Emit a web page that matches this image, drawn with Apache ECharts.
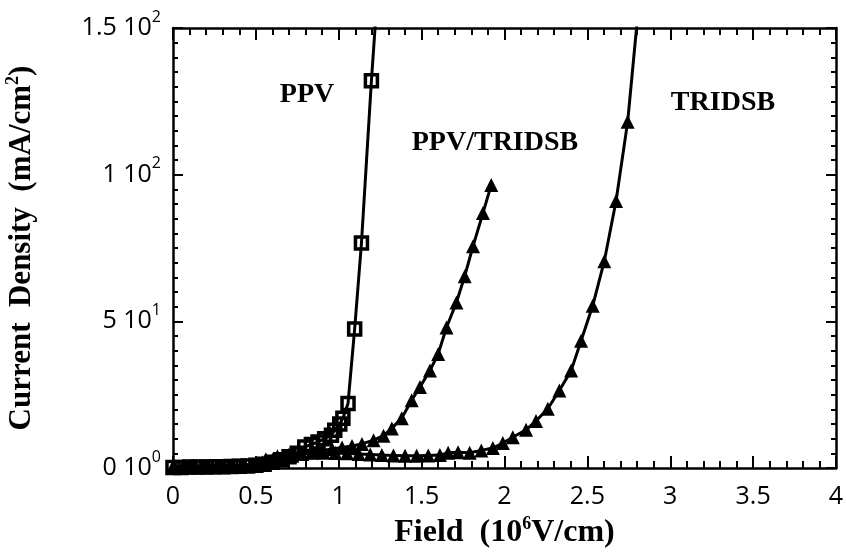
<!DOCTYPE html>
<html>
<head>
<meta charset="utf-8">
<script src="https://cdn.jsdelivr.net/npm/echarts@6/dist/echarts.min.js"></script>
<style>
html,body{margin:0;padding:0;background:#fff;}
#chart{width:846px;height:552px;}
</style>
</head>
<body>
<div id="chart"></div>
<script>
// ---- data ----
const xTickLabels = ['0', '0.5', '1', '1.5', '2', '2.5', '3', '3.5', '4'];
const yTickLabels = ['0 10{sup|0}', '5 10{sup|1}', '1 10{sup|2}', '1.5 10{sup|2}'];

const ppvX = [0, 0.05, 0.1, 0.15, 0.2, 0.25, 0.3, 0.35, 0.4, 0.45, 0.5, 0.55, 0.6, 0.65, 0.7, 0.75, 0.795, 0.835, 0.875, 0.915, 0.956, 0.976, 1.006, 1.025, 1.056, 1.096, 1.137, 1.197, 1.225];
const ppvY = [0.2, 0.2, 0.3, 0.3, 0.3, 0.4, 0.4, 0.5, 0.6, 0.7, 0.9, 1.3, 2.0, 2.8, 3.8, 5.0, 7.2, 8.0, 8.9, 10.0, 11.2, 12.9, 15.0, 17.0, 22.0, 47.4, 76.7, 132.0, 155.0];

const blendX = [0, 0.06, 0.12, 0.18, 0.24, 0.3, 0.36, 0.42, 0.48, 0.54, 0.6, 0.66, 0.72, 0.78, 0.84, 0.9, 0.96, 1.02, 1.08, 1.14, 1.21, 1.27, 1.32, 1.38, 1.44, 1.49, 1.55, 1.6, 1.65, 1.71, 1.76, 1.81, 1.87, 1.92];
const blendY = [0.4, 0.4, 0.5, 0.5, 0.6, 0.7, 0.8, 1.0, 1.3, 2.0, 2.8, 3.5, 4.2, 4.8, 5.4, 6.0, 6.5, 7.0, 7.5, 8.2, 9.5, 11.0, 13.5, 17.0, 23.1, 27.6, 33.2, 38.9, 47.9, 56.4, 65.4, 75.6, 86.9, 96.5];

const tridX = [0, 0.07, 0.14, 0.21, 0.28, 0.35, 0.42, 0.49, 0.56, 0.63, 0.7, 0.77, 0.84, 0.91, 0.98, 1.05, 1.12, 1.19, 1.26, 1.33, 1.4, 1.47, 1.54, 1.61, 1.66, 1.72, 1.79, 1.86, 1.93, 1.99, 2.05, 2.13, 2.19, 2.261, 2.331, 2.402, 2.462, 2.532, 2.602, 2.673, 2.743, 2.81];
const tridY = [0.3, 0.3, 0.4, 0.4, 0.5, 0.5, 0.7, 1.2, 3.0, 4.0, 4.6, 5.0, 5.2, 5.2, 5.1, 5.0, 4.8, 4.6, 4.4, 4.3, 4.2, 4.2, 4.3, 4.4, 5.2, 5.4, 5.2, 6.0, 6.8, 8.5, 10.5, 13.0, 16.0, 20.2, 26.4, 33.2, 43.4, 55.3, 70.5, 91.0, 118.0, 158.0];

const seriesNames = ['PPV', 'PPV/TRIDSB', 'TRIDSB'];

// ---- build ----
function pairs(xs, ys, lastHidden) {
  return xs.map((x, i) => {
    if (lastHidden && i === xs.length - 1) return { value: [x, ys[i]], symbolSize: 0 };
    return [x, ys[i]];
  });
}

const serifBold = { fontFamily: 'Liberation Serif', fontWeight: 'bold', color: '#000' };
const tickFont = { fontFamily: 'Open Sans', fontSize: 25, color: '#000' };
const titleSup = Object.assign({ fontSize: 18, verticalAlign: 'top', lineHeight: 36 }, serifBold);

const xAxisCommon = {
  type: 'value', min: 0, max: 4, interval: 0.5,
  axisLine: { show: true, onZero: false, lineStyle: { color: '#000', width: 2.5 } },
  axisTick: { show: true, inside: true, length: 12, lineStyle: { color: '#000', width: 2 } },
  minorTick: { show: true, splitNumber: 5, length: 7, lineStyle: { color: '#000', width: 2 } },
  splitLine: { show: false }
};
const yAxisCommon = {
  type: 'value', min: 0, max: 150, interval: 50,
  axisLine: { show: true, onZero: false, lineStyle: { color: '#000', width: 2.5 } },
  axisTick: { show: true, inside: true, length: 10, lineStyle: { color: '#000', width: 2 } },
  minorTick: { show: true, splitNumber: 10, length: 5, lineStyle: { color: '#000', width: 2 } },
  splitLine: { show: false }
};

const option = {
  animation: false,
  backgroundColor: '#fff',
  grid: { left: 173, right: 10, top: 28, bottom: 84, containLabel: false, outerBoundsMode: 'none' },
  xAxis: [
    Object.assign({}, xAxisCommon, {
      position: 'bottom',
      axisLabel: Object.assign({ margin: 16, formatter: v => xTickLabels[Math.round(v / 0.5)] }, tickFont),
      name: 'Field  (10{sup|6}V/cm)',
      nameLocation: 'middle',
      nameGap: 47,
      nameTextStyle: Object.assign({ fontSize: 32, rich: { sup: titleSup } }, serifBold)
    }),
    Object.assign({}, xAxisCommon, { position: 'top', axisLabel: { show: false } })
  ],
  yAxis: [
    Object.assign({}, yAxisCommon, {
      position: 'left',
      axisLabel: Object.assign({
        margin: 12,
        formatter: v => yTickLabels[Math.round(v / 50)],
        rich: { sup: { fontFamily: 'Open Sans', fontSize: 16, color: '#000', verticalAlign: 'top', lineHeight: 38 } }
      }, tickFont),
      name: 'Current  Density  (mA/cm{sup|2})',
      nameLocation: 'middle',
      nameGap: 133,
      nameTextStyle: Object.assign({ fontSize: 31, rich: { sup: titleSup } }, serifBold)
    }),
    Object.assign({}, yAxisCommon, { position: 'right', axisLabel: { show: false } })
  ],
  series: [
    {
      name: seriesNames[0], type: 'line', xAxisIndex: 0, yAxisIndex: 0,
      data: pairs(ppvX, ppvY, true), clip: true,
      symbol: 'rect', symbolSize: 12,
      lineStyle: { color: '#000', width: 3 },
      itemStyle: { color: 'rgba(0,0,0,0)', borderColor: '#000', borderWidth: 3.5 },
      z: 3
    },
    {
      name: seriesNames[1], type: 'line', xAxisIndex: 0, yAxisIndex: 0,
      data: pairs(blendX, blendY, false), clip: true,
      symbol: 'triangle', symbolSize: 14,
      lineStyle: { color: '#000', width: 3 },
      itemStyle: { color: '#000', borderWidth: 0 }
    },
    {
      name: seriesNames[2], type: 'line', xAxisIndex: 0, yAxisIndex: 0,
      data: pairs(tridX, tridY, true), clip: true,
      symbol: 'triangle', symbolSize: 14,
      lineStyle: { color: '#000', width: 3 },
      itemStyle: { color: '#000', borderWidth: 0 }
    }
  ],
  graphic: [
    { type: 'text', x: 307, y: 95, style: { text: seriesNames[0], fontSize: 28, align: 'center', verticalAlign: 'middle', fill: '#000', fontFamily: 'Liberation Serif', fontWeight: 'bold' } },
    { type: 'text', x: 495, y: 143, style: { text: seriesNames[1], fontSize: 28, align: 'center', verticalAlign: 'middle', fill: '#000', fontFamily: 'Liberation Serif', fontWeight: 'bold' } },
    { type: 'text', x: 723, y: 103, style: { text: seriesNames[2], fontSize: 28, align: 'center', verticalAlign: 'middle', fill: '#000', fontFamily: 'Liberation Serif', fontWeight: 'bold' } }
  ]
};

const chart = echarts.init(document.getElementById('chart'), null, { renderer: 'canvas' });
chart.setOption(option);
</script>
</body>
</html>
